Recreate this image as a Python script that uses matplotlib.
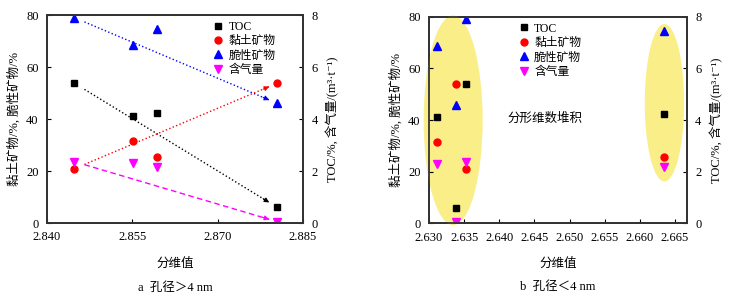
import matplotlib
matplotlib.use("Agg")
import matplotlib.pyplot as plt
from matplotlib.patches import Ellipse

plt.rcParams['font.family'] = ['Liberation Serif', 'Noto Sans CJK SC', 'DejaVu Serif']
plt.rcParams['font.size'] = 9

# %% data: four samples, fractal dimension for pores > 4 nm and < 4 nm
fd_large = [2.8448, 2.8552, 2.8594, 2.8805]
fd_small = [2.6352, 2.6312, 2.6635, 2.6339]
toc = [5.38, 4.12, 4.22, 0.60]          # %, right axis
clay = [20.9, 31.5, 25.5, 53.8]         # %, left axis
brittle = [79.0, 68.6, 74.5, 46.0]      # %, left axis
gas = [2.36, 2.29, 2.17, 0.05]          # m3/t, right axis

left_label = '黏土矿物/%, 脆性矿物/%'
right_label = 'TOC/%, 含气量/(m³·t⁻¹)'

# groups circled in panel b
groups_b = [[0, 1, 3], [2]]


def trend(ax, x, y, color, ls):
    # arrow from first to last sample
    x0, x1 = x[0], x[-1]
    y0, y1 = y[0], y[-1]
    sx, sy = x0 + 0.05 * (x1 - x0), y0 + 0.05 * (y1 - y0)
    ex, ey = x0 + 0.96 * (x1 - x0), y0 + 0.96 * (y1 - y0)
    ax.plot([sx, ex], [sy, ey], ls=ls, color=color, lw=1.0, zorder=2)
    bx, by = x0 + 0.93 * (x1 - x0), y0 + 0.93 * (y1 - y0)
    ax.annotate('', xy=(ex, ey), xytext=(bx, by),
                arrowprops=dict(arrowstyle='-|>', color=color, lw=0.8,
                                mutation_scale=7, shrinkA=0, shrinkB=0))


def panel(ax, x, xlim, xticks, caption, legend_x):
    ax2 = ax.twinx()
    ax.set_zorder(ax2.get_zorder() + 1)
    ax.patch.set_visible(False)
    toc10 = [v * 10 for v in toc]
    gas10 = [v * 10 for v in gas]
    h1, = ax.plot(x, toc10, 's', color='black', ms=4.5, ls='none', label='TOC')
    h2, = ax.plot(x, clay, 'o', color='red', ms=5, ls='none', label='黏土矿物')
    h3, = ax.plot(x, brittle, '^', color='blue', ms=6, ls='none', label='脆性矿物')
    h4, = ax.plot(x, gas10, 'v', color='magenta', ms=6, ls='none', label='含气量')

    ax.set_xlim(*xlim)
    ax.set_ylim(0, 80)
    ax2.set_ylim(0, 8)
    ax.set_xticks(xticks)
    ax.set_xticklabels(['%.3f' % t for t in xticks])
    ax.set_yticks([0, 20, 40, 60, 80])
    ax2.set_yticks([0, 2, 4, 6, 8])
    for a in (ax, ax2):
        a.tick_params(direction='in', length=3, width=0.8, labelsize=9, pad=6)
        for s in a.spines.values():
            s.set_linewidth(1.3)
            s.set_color('#333333')
    ax.set_ylabel(left_label, fontsize=9, labelpad=4)
    ax2.set_ylabel(right_label, fontsize=9, labelpad=6)
    ax.set_xlabel('分维值', fontsize=9, labelpad=10)
    ax.text(0.5, -0.31, caption, transform=ax.transAxes, ha='center',
            va='center', fontsize=9)
    ax.legend(handles=[h1, h2, h3, h4], loc='upper left',
              bbox_to_anchor=(legend_x, 0.995), frameon=False, fontsize=8.5,
              handlelength=0.8, handletextpad=0.5, labelspacing=0.2,
              borderaxespad=0)
    return ax, ax2


fig = plt.figure(figsize=(7.41, 2.95), dpi=100)
axa = fig.add_axes([0.0634, 0.244, 0.3455, 0.705])
axb = fig.add_axes([0.579, 0.243, 0.348, 0.700])

# %% panel a
panel(axa, fd_large, (2.840, 2.885), [2.840, 2.855, 2.870, 2.885],
      'a  孔径＞4 nm', 0.63)
trend(axa, fd_large, [v * 10 for v in toc], 'black', ':')
trend(axa, fd_large, clay, 'red', ':')
trend(axa, fd_large, brittle, 'blue', ':')
trend(axa, fd_large, [v * 10 for v in gas], 'magenta', (0, (4, 2.5)))

# %% panel b
for g, pads in zip(groups_b, [(0.0042, 1.2, 1.5), (0.0028, 5.5, 2.7)]):
    gx = [fd_small[i] for i in g]
    gv = [v for i in g for v in (clay[i], brittle[i], toc[i] * 10, gas[i] * 10)]
    cx = sum(gx) / len(gx)
    lo, hi = min(gv) - pads[1], max(gv) + pads[2]
    e = Ellipse((cx, (lo + hi) / 2), 2 * pads[0], hi - lo,
                facecolor='#f9ee87', edgecolor='none', zorder=0, clip_on=False)
    axb.add_patch(e)
panel(axb, fd_small, (2.630, 2.6667),
      [2.630, 2.635, 2.640, 2.645, 2.650, 2.655, 2.660, 2.665],
      'b  孔径＜4 nm', 0.33)
axb.text(2.6465, 40.5, '分形维数堆积', ha='center', va='center', fontsize=9)

fig.savefig('out.png', dpi=100)
